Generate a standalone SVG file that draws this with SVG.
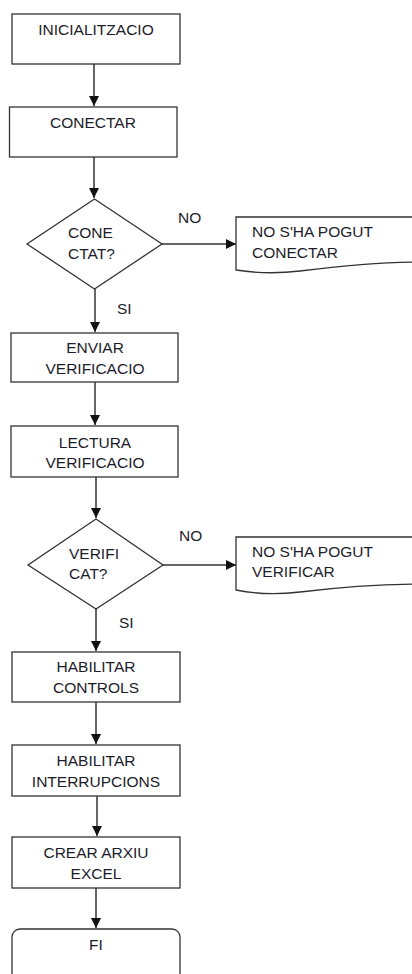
<svg xmlns="http://www.w3.org/2000/svg" width="412" height="974" viewBox="0 0 412 974">
  <defs>
    <marker id="arrow" viewBox="0 0 10 10" refX="10" refY="5" markerWidth="10" markerHeight="11" markerUnits="userSpaceOnUse" orient="auto">
      <path d="M0,0 L10,5 L0,10 Z" fill="#111"/>
    </marker>
    <style>
      .shape { fill: #fff; stroke: #333; stroke-width: 1.3; }
      .conn { fill: none; stroke: #333; stroke-width: 1.5; marker-end: url(#arrow); }
      text { font-family: "Liberation Sans", Arial, sans-serif; font-size: 15.5px; fill: #1c1c2a; }
      .c { text-anchor: middle; }
    </style>
  </defs>
  <rect width="412" height="974" fill="#fff"/>

  <!-- connectors -->
  <g id="connectors">
    <line class="conn" x1="94" y1="64" x2="94" y2="106"/>
    <line class="conn" x1="94" y1="157" x2="94" y2="198"/>
    <line class="conn" x1="162" y1="244" x2="236" y2="244"/>
    <line class="conn" x1="95" y1="289" x2="95" y2="332"/>
    <line class="conn" x1="95" y1="382" x2="95" y2="425"/>
    <line class="conn" x1="96" y1="477" x2="96" y2="518"/>
    <line class="conn" x1="163" y1="565" x2="236" y2="565"/>
    <line class="conn" x1="96" y1="609" x2="96" y2="651"/>
    <line class="conn" x1="96" y1="702" x2="96" y2="744"/>
    <line class="conn" x1="97" y1="796" x2="97" y2="836"/>
    <line class="conn" x1="96" y1="888" x2="96" y2="928"/>
    <text x="178" y="223">NO</text>
    <text x="117" y="314">SI</text>
    <text x="179" y="541">NO</text>
    <text x="119" y="628">SI</text>
  </g>

  <g id="inicialitzacio">
    <rect class="shape" x="12" y="14" width="168" height="50"/>
    <text class="c" x="96" y="35">INICIALITZACIO</text>
  </g>

  <g id="conectar">
    <rect class="shape" x="9.5" y="107" width="167.5" height="50"/>
    <text class="c" x="93" y="128">CONECTAR</text>
  </g>

  <g id="conectat">
    <polygon class="shape" points="94.5,199 162,244 94.5,289 27,244"/>
    <text x="68" y="238">CONE</text>
    <text x="68" y="259">CTAT?</text>
  </g>

  <g id="error-conectar">
    <path class="shape" d="M236,217 L420,217 L420,262 C380,262 340,266 300,271 C275,274 255,273 236,270 Z"/>
    <text x="252" y="237">NO S'HA POGUT</text>
    <text x="252" y="258">CONECTAR</text>
  </g>

  <g id="enviar-verificacio">
    <rect class="shape" x="11" y="333" width="167" height="49"/>
    <text class="c" x="95" y="353">ENVIAR</text>
    <text class="c" x="95" y="374">VERIFICACIO</text>
  </g>

  <g id="lectura-verificacio">
    <rect class="shape" x="11" y="426" width="167" height="51"/>
    <text class="c" x="95" y="448">LECTURA</text>
    <text class="c" x="95" y="468">VERIFICACIO</text>
  </g>

  <g id="verificat">
    <polygon class="shape" points="96,519 163,565 96,609 28,565"/>
    <text x="69" y="559">VERIFI</text>
    <text x="69" y="579">CAT?</text>
  </g>

  <g id="error-verificar">
    <path class="shape" d="M236,537 L420,537 L420,584 C380,584 340,587 300,592 C275,595 255,594 236,590 Z"/>
    <text x="252" y="557">NO S'HA POGUT</text>
    <text x="252" y="577">VERIFICAR</text>
  </g>

  <g id="habilitar-controls">
    <rect class="shape" x="12" y="652" width="168" height="50"/>
    <text class="c" x="96" y="672">HABILITAR</text>
    <text class="c" x="96" y="693">CONTROLS</text>
  </g>

  <g id="habilitar-interrupcions">
    <rect class="shape" x="12" y="745" width="168" height="51"/>
    <text class="c" x="96" y="766">HABILITAR</text>
    <text class="c" x="96" y="787">INTERRUPCIONS</text>
  </g>

  <g id="crear-arxiu">
    <rect class="shape" x="12" y="837" width="168" height="51"/>
    <text class="c" x="96" y="858">CREAR ARXIU</text>
    <text class="c" x="96" y="879">EXCEL</text>
  </g>

  <g id="fi">
    <rect class="shape" x="12" y="929" width="168" height="70" rx="8" ry="8"/>
    <text class="c" x="96" y="950">FI</text>
  </g>
</svg>
